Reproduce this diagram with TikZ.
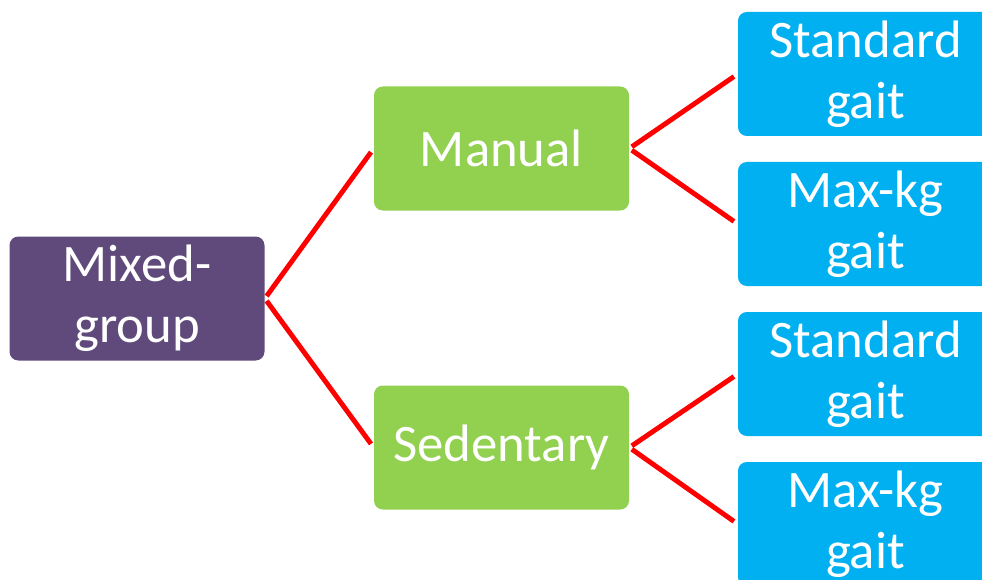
\documentclass[tikz,border=0pt]{standalone}
\usepackage{fontspec}
\setmainfont{Carlito}
\usepackage{tikz}
\usetikzlibrary{positioning}
\definecolor{groupviolet}{RGB}{96, 74, 123}
\definecolor{modegreen}{RGB}{146, 208, 80}
\definecolor{gaitblue}{RGB}{0, 176, 240}
\definecolor{linkred}{RGB}{255, 0, 0}

\begin{document}
\begin{tikzpicture}[
    box/.style={rectangle, rounded corners=5pt, text=white,
                minimum width=5.1cm, minimum height=2.48cm,
                align=center, inner sep=0pt,
                font=\fontsize{30}{34.5}\selectfont},
    group/.style={box, fill=groupviolet},
    mode/.style={box, fill=modegreen},
    gait/.style={box, fill=gaitblue},
    link/.style={linkred, line width=2.8pt,
                 shorten <=0.06cm, shorten >=0.09cm}
]
\useasboundingbox (0,0) rectangle (19.64,-11.58);

\node[group] (mixed) at (2.74, -5.97) {Mixed-\\group};

% Activity groups
\node[mode] (manual) at (10.03, -2.97) {Manual};
\node[mode] (sed)    at (10.03, -8.95) {Sedentary};

% Gait conditions
\node[gait] (stdA) at (17.31, -1.48)  {Standard\\gait};
\node[gait] (maxA) at (17.31, -4.48)  {Max-kg\\gait};
\node[gait] (stdB) at (17.31, -7.48)  {Standard\\gait};
\node[gait] (maxB) at (17.31, -10.48) {Max-kg\\gait};

% Links
\draw[link] (mixed.east) -- (manual.west);
\draw[link] (mixed.east) -- (sed.west);
\draw[link] (manual.east) -- (stdA.west);
\draw[link] (manual.east) -- (maxA.west);
\draw[link] (sed.east) -- (stdB.west);
\draw[link] (sed.east) -- (maxB.west);

\end{tikzpicture}
\end{document}
